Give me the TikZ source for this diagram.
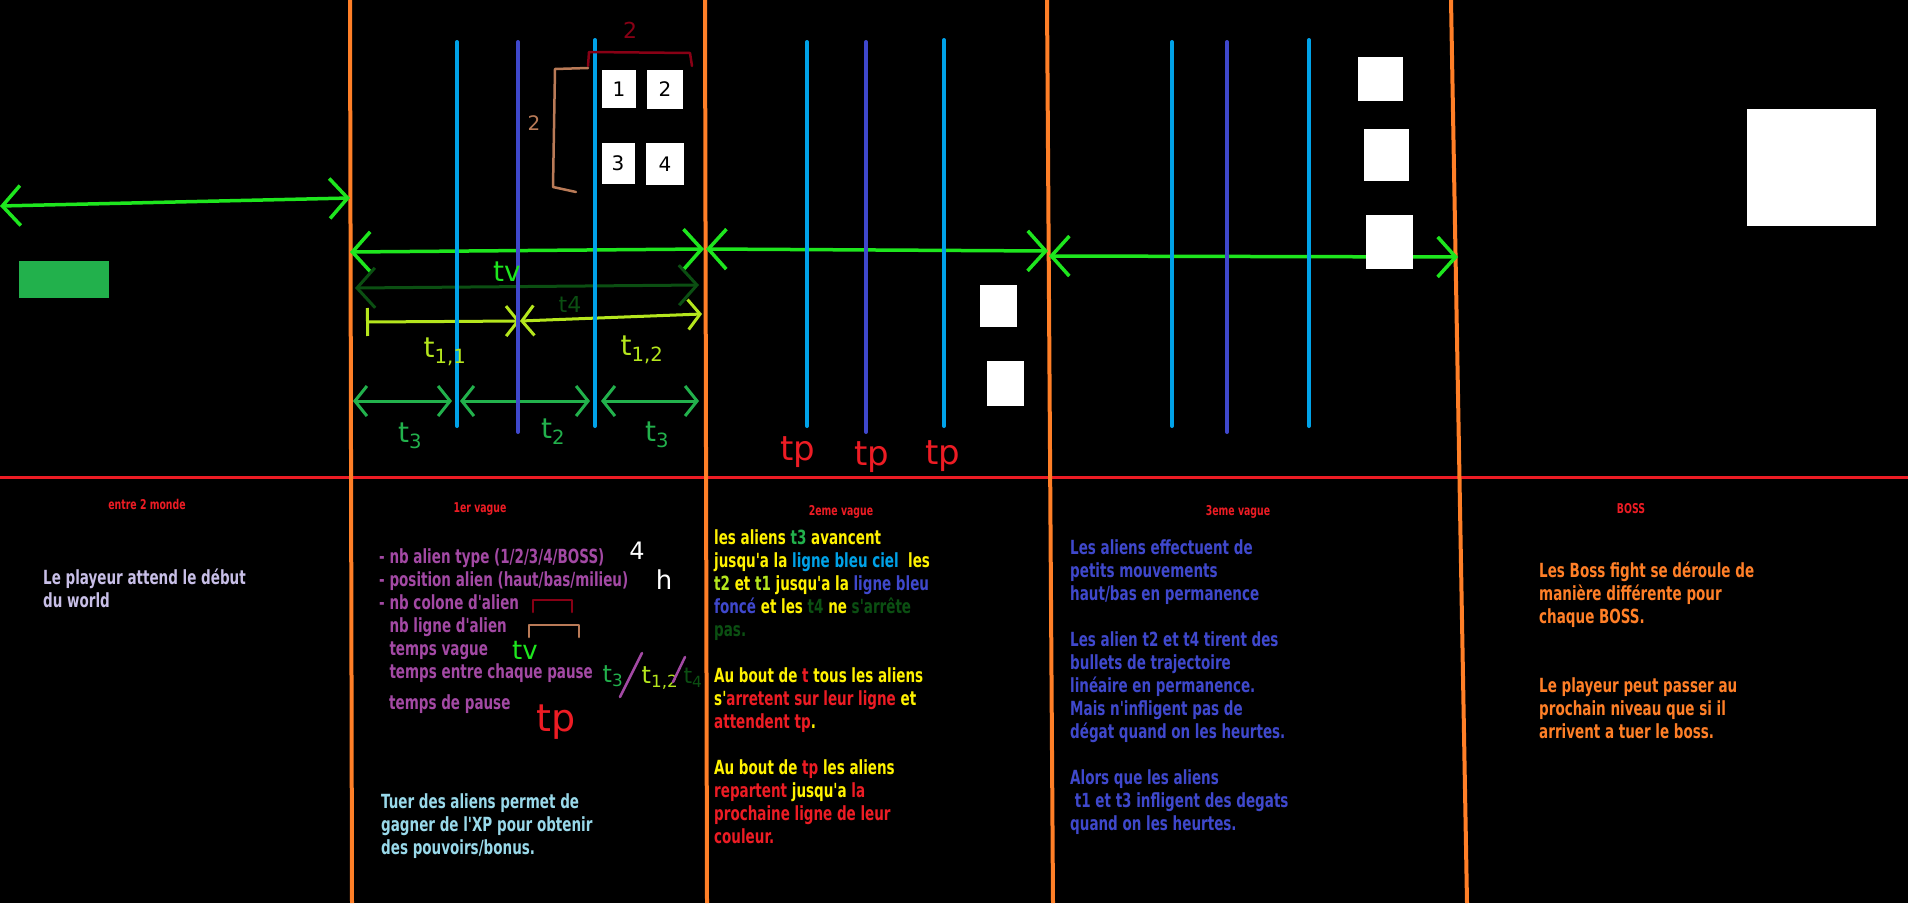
\documentclass[tikz,border=0pt]{standalone}
\usepackage{fontspec}
\usepackage{xcolor}
\usepackage{tikz}
\usetikzlibrary{arrows.meta}

\newfontfamily\paintfont[FakeStretch=0.77,Ligatures=TeXOff]{DejaVu Sans Condensed}
\newfontfamily\handfont{DejaVu Sans}

\definecolor{pred}{HTML}{ED1C24}
\definecolor{porange}{HTML}{FF7F27}
\definecolor{pyellow}{HTML}{FFF200}
\definecolor{pgreen}{HTML}{22B14C}
\definecolor{plime}{HTML}{B5E61D}
\definecolor{psky}{HTML}{00A2E8}
\definecolor{pindigo}{HTML}{3F48CC}
\definecolor{ppurple}{HTML}{A349A4}
\definecolor{plavender}{HTML}{C8BFE7}
\definecolor{pturq}{HTML}{99D9EA}
\definecolor{pdarkred}{HTML}{880015}
\definecolor{ptan}{HTML}{B97A57}
\definecolor{pbright}{HTML}{1EE61E}
\definecolor{pdeep}{HTML}{0B4F12}

\begin{document}
\begin{tikzpicture}[x=1pt, y=-1pt,
  zone/.style={porange, line width=4pt},
  lane/.style={line width=4pt, line cap=round},
  span/.style={<->, line width=3.5pt, line cap=round,
    >={Straight Barb[length=18pt,width=40pt]}},
  gap/.style={<->, line width=3pt, line cap=round,
    >={Straight Barb[length=12pt,width=30pt]}},
  alien/.style={fill=white, draw=none, inner sep=0, text=black,
    font={\handfont\fontsize{20}{20}\selectfont}},
  head/.style={text=pred, anchor=base, inner sep=0,
    font={\paintfont\bfseries\fontsize{13.5}{15}\selectfont}},
  body/.style={anchor=base west, align=left, inner sep=0,
    font={\paintfont\bfseries\fontsize{19.5}{23}\selectfont}},
  hand/.style={inner sep=0, font={\handfont\fontsize{28}{28}\selectfont}},
  bracket/.style={line width=2.5pt, line cap=round, line join=round}
]
\fill[black] (0,0) rectangle (1908,903);
\useasboundingbox (0,0) rectangle (1908,903);

\coordinate (z1t) at (350,0);  \coordinate (z1b) at (352,903);
\coordinate (z2t) at (705,0);  \coordinate (z2b) at (707,903);
\coordinate (z3t) at (1047,0); \coordinate (z3b) at (1053,903);
\coordinate (z4t) at (1451,0); \coordinate (z4b) at (1467,903);
\coordinate (sepl) at (0,477); \coordinate (sepr) at (1908,477);

\draw[pred, line width=3pt] (sepl) -- (sepr);
\foreach \z in {1,2,3,4}
  \draw[zone] (z\z t) -- (z\z b);

\fill[pgreen] (19,261) rectangle (109,298);

\coordinate (a0l) at (0,206);    \coordinate (a0r) at (350,198);
\coordinate (a1l) at (350,252);  \coordinate (a1r) at (704,249);
\coordinate (a2l) at (706,249);  \coordinate (a2r) at (1048,251);
\coordinate (a3l) at (1049,256); \coordinate (a3r) at (1458,257);
\draw[span, pbright] (a0l) -- (a0r);
\draw[span, pbright] (a1l) -- (a1r);
\draw[span, pbright] (a2l) -- (a2r);
\draw[span, pbright] (a3l) -- (a3r);

\coordinate (t4l) at (355,288);  \coordinate (t4r) at (699,285);
\draw[span, pdeep, line width=3pt] (t4l) -- (t4r);
\coordinate (t1a) at (366,322);  \coordinate (t1b) at (520,321);
\coordinate (t1c) at (702,314);
\draw[gap, plime, {Bar[width=28pt]}-{Straight Barb[length=12pt,width=30pt]}] (t1a) -- (t1b);
\draw[gap, plime] (t1b) -- (t1c);

\foreach \a/\b [count=\i] in {353/452, 460/590, 601/699} {
  \coordinate (g\i l) at (\a,401);
  \coordinate (g\i r) at (\b,401);
  \draw[gap, pgreen] (g\i l) -- (g\i r);
}

\foreach \a/\b/\c in {457/518/595, 807/866/944, 1172/1227/1309} {
  \draw[lane, psky] (\a,42) -- (\a,426);
  \draw[lane, pindigo] (\b,42) -- (\b,432);
  \draw[lane, psky] (\c,40) -- (\c,426);
}

\node[alien, minimum width=34pt, minimum height=38pt] (al1) at (619,89) {1};
\node[alien, minimum width=36pt, minimum height=39pt] (al2) at (665,89) {2};
\node[alien, minimum width=33pt, minimum height=41pt] (al3) at (618,163) {3};
\node[alien, minimum width=38pt, minimum height=42pt] (al4) at (665,164) {4};
\draw[bracket, pdarkred] (588,66) -- (589,52) -- (690,53) -- (692,66);
\node[hand, text=pdarkred, font={\handfont\fontsize{22}{22}\selectfont}] (cols) at (630,30) {2};
\draw[bracket, ptan] (588,68) -- (555,69) -- (553,187) -- (576,192);
\node[hand, text=ptan, font={\handfont\fontsize{20}{20}\selectfont}] (rows) at (534,123) {2};

\fill[white] (980,285) rectangle (1017,327);
\fill[white] (987,361) rectangle (1024,406);
\fill[white] (1358,57) rectangle (1403,101);
\fill[white] (1364,129) rectangle (1409,181);
\fill[white] (1366,215) rectangle (1413,269);
\fill[white] (1747,109) rectangle (1876,226);

\node[hand, text=pbright] (tv) at (507,272) {tv};
\node[hand, text=pdeep, font={\handfont\fontsize{22}{22}\selectfont}] (tfour) at (570,304) {t4};
\node[hand, text=plime] (tonea) at (445,352) {t\textsubscript{1,1}};
\node[hand, text=plime] (toneb) at (642,350) {t\textsubscript{1,2}};
\node[hand, text=pgreen] (tthreea) at (410,436) {t\textsubscript{3}};
\node[hand, text=pgreen] (ttwo) at (553,432) {t\textsubscript{2}};
\node[hand, text=pgreen] (tthreeb) at (657,435) {t\textsubscript{3}};
\node[hand, text=pred, font={\handfont\fontsize{34}{34}\selectfont}] (tpa) at (798,452) {tp};
\node[hand, text=pred, font={\handfont\fontsize{34}{34}\selectfont}] (tpb) at (872,457) {tp};
\node[hand, text=pred, font={\handfont\fontsize{34}{34}\selectfont}] (tpc) at (943,456) {tp};

\node[head] (h0) at (147,509) {entre 2 monde};
\node[head] (h1) at (480,512) {1er vague};
\node[head] (h2) at (841,515) {2eme vague};
\node[head] (h3) at (1238,515) {3eme vague};
\node[head] (h4) at (1631,513) {BOSS};

\node[body, text=plavender] (wait) at (43,607) {Le playeur attend le début\\du world};

\node[body, text=ppurple] (params) at (379,678) {- nb alien type (1/2/3/4/BOSS)\\
- position alien (haut/bas/milieu)\\
- nb colone d'alien\\
\phantom{- }nb ligne d'alien\\
\phantom{- }temps vague\\
\phantom{- }temps entre chaque pause};
\node[body, text=ppurple] (pause) at (389,709) {temps de pause};

\node[hand, text=white, font={\handfont\fontsize{24}{24}\selectfont}] (ntype) at (637,551) {4};
\node[hand, text=white, font={\handfont\fontsize{26}{26}\selectfont}] (npos) at (664,580) {h};
\draw[bracket, pdarkred] (533,612) -- (533,600) -- (572,600) -- (572,612);
\draw[bracket, ptan] (529,637) -- (529,625) -- (579,625) -- (579,637);
\node[hand, text=pbright, font={\handfont\fontsize{26}{26}\selectfont}] (tvb) at (525,650) {tv};
\node[hand, text=pgreen, font={\handfont\fontsize{24}{24}\selectfont}] (tthreec) at (613,676) {t\textsubscript{3}};
\draw[bracket, ppurple] (642,653) -- (620,697);
\node[hand, text=plime, font={\handfont\fontsize{24}{24}\selectfont}] (tonec) at (660,678) {t\textsubscript{1,2}};
\draw[bracket, ppurple] (685,657) -- (673,682);
\node[hand, text=pdeep, font={\handfont\fontsize{22}{22}\selectfont}] (tfourb) at (693,678) {t\textsubscript{4}};
\node[hand, text=pred, font={\handfont\fontsize{38}{38}\selectfont}] (tpd) at (556,722) {tp};

\node[body, text=pturq] (xp) at (381,854) {Tuer des aliens permet de\\
gagner de l'XP pour obtenir\\
des pouvoirs/bonus.};

\node[body, text=pyellow] (wave2) at (714,843) {les aliens \textcolor{pgreen}{t3} avancent\\
jusqu'a la \textcolor{psky}{ligne bleu ciel}\ \ les\\
\textcolor{plime}{t2} et \textcolor{plime}{t1} jusqu'a la \textcolor{pindigo}{ligne bleu}\\
\textcolor{pindigo}{foncé} et les \textcolor{pdeep}{t4} ne \textcolor{pdeep}{s'arrête}\\
\textcolor{pdeep}{pas.}\\
\mbox{}\\
Au bout de \textcolor{pred}{t} tous les aliens\\
s'\textcolor{pred}{arretent sur leur ligne} et\\
\textcolor{pred}{attendent tp}.\\
\mbox{}\\
Au bout de \textcolor{pred}{tp} les aliens\\
\textcolor{pred}{repartent} jusqu'a \textcolor{pred}{la}\\
\textcolor{pred}{prochaine ligne de leur}\\
\textcolor{pred}{couleur.}};

\node[body, text=pindigo] (wave3) at (1070,830) {Les aliens effectuent de\\
petits mouvements\\
haut/bas en permanence\\
\mbox{}\\
Les alien t2 et t4 tirent des\\
bullets de trajectoire\\
linéaire en permanence.\\
Mais n'infligent pas de\\
dégat quand on les heurtes.\\
\mbox{}\\
Alors que les aliens\\
\ t1 et t3 infligent des degats\\
quand on les heurtes.};

\node[body, text=porange] (bossa) at (1539,623) {Les Boss fight se déroule de\\
manière différente pour\\
chaque BOSS.};
\node[body, text=porange] (bossb) at (1539,738) {Le playeur peut passer au\\
prochain niveau que si il\\
arrivent a tuer le boss.};
\end{tikzpicture}
\end{document}
